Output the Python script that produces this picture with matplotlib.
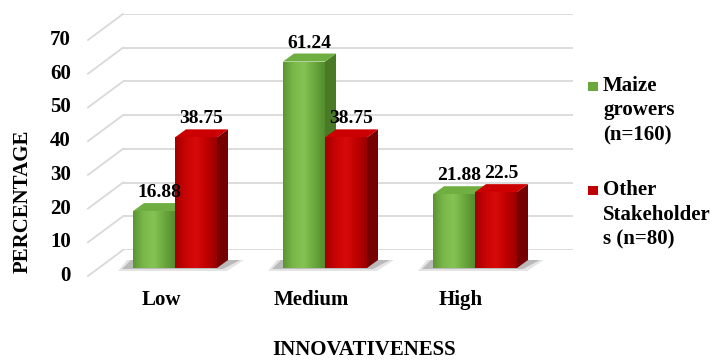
import numpy as np
import matplotlib.pyplot as plt
from matplotlib.patches import Polygon, Rectangle
from matplotlib.colors import LinearSegmentedColormap

# data
categories = ['Low', 'Medium', 'High']
maize = [16.88, 61.24, 21.88]
others = [38.75, 38.75, 22.5]
maize_labels = ['16.88', '61.24', '21.88']
other_labels = ['38.75', '38.75', '22.5']
yticks = [0, 10, 20, 30, 40, 50, 60, 70]
legend_names = ['Maize\ngrowers\n(n=160)', 'Other\nStakeholder\ns (n=80)']

plt.rcParams['font.family'] = ['Liberation Serif', 'DejaVu Serif']
plt.rcParams['font.weight'] = 'bold'

W, H = 710, 360
fig = plt.figure(figsize=(W / 100, H / 100), dpi=100)
# axes = back wall of the 3D box
ax = fig.add_axes([123 / W, 1 - 250 / H, 450 / W, 236 / H])
ax.axis('off')

px_x = 3 / 450.0   # data units per pixel
px_y = 70 / 236.0

grid_c = '#d9d9d9'
# back wall gridlines + diagonals running to the front edge
ax.hlines(yticks, -0.5, 2.5, color=grid_c, lw=1.3, zorder=0)
for v in yticks:
    ax.plot([-0.5 - 35 * px_x, -0.5], [v - 26 * px_y, v], color=grid_c,
            lw=1.3, clip_on=False, zorder=0)
    ax.text(-0.5 - 52 * px_x, v - 26 * px_y, str(v), ha='right', va='center',
            fontsize=15, clip_on=False)

# bar geometry
fx, fy = -23 * px_x, -18 * px_y      # front face shift
ddx, ddy = 11 * px_x, 8 * px_y       # bar depth
bw = 42 * px_x

green_cm = LinearSegmentedColormap.from_list('g', ['#5c9633', '#7bb84a', '#86c355', '#6aa83d', '#558d2e'])
red_cm = LinearSegmentedColormap.from_list('r', ['#a40000', '#c80404', '#d80a0a', '#c00000', '#9a0000'])
grad = np.linspace(0, 1, 64).reshape(1, -1)


def draw_bar(x0, v, cmap, side_c, top_c):
    x0 = x0 + fx
    x1 = x0 + bw
    y0 = fy
    y1 = fy + v
    side = Polygon([(x1, y0), (x1 + ddx, y0 + ddy), (x1 + ddx, y1 + ddy), (x1, y1)],
                   closed=True, fc=side_c, ec='none', zorder=3, clip_on=False)
    top = Polygon([(x0, y1), (x0 + ddx, y1 + ddy), (x1 + ddx, y1 + ddy), (x1, y1)],
                  closed=True, fc=top_c, ec='none', zorder=3, clip_on=False)
    ax.add_patch(side)
    ax.add_patch(top)
    front = Rectangle((x0, y0), bw, v, fc='none', ec='none', zorder=3)
    ax.add_patch(front)
    im = ax.imshow(grad, cmap=cmap, extent=(x0, x1, y0, y1), aspect='auto',
                   zorder=3, interpolation='bilinear')
    im.set_clip_path(front)


for i in range(len(categories)):
    # floor shadow under each pair
    gl = i - bw
    gr = i + bw
    for grow, a in [(4, 0.18), (0, 0.35)]:
        sh = Polygon([(gl + fx - (11 + grow) * px_x, fy - (1 + grow / 2) * px_y),
                      (gr + fx + (6 + grow) * px_x, fy - (1 + grow / 2) * px_y),
                      (gr + fx + ddx + (12 + grow) * px_x, fy + ddy),
                      (gl + fx - (2 + grow) * px_x, fy + ddy)],
                     closed=True, fc='#6e6e6e', ec='none', alpha=a, zorder=2, clip_on=False)
        ax.add_patch(sh)
    draw_bar(i - bw, maize[i], green_cm, '#4a7a26', '#6fae40')
    draw_bar(i, others[i], red_cm, '#760000', '#cc0000')

    ax.text(i - bw / 2 + fx + ddx / 2, maize[i] + fy + ddy + 2 * px_y, maize_labels[i],
            ha='center', va='bottom', fontsize=14, zorder=5)
    ax.text(i + bw / 2 + fx + ddx / 2, others[i] + fy + ddy + 2 * px_y, other_labels[i],
            ha='center', va='bottom', fontsize=14, zorder=5)
    ax.text(i - 37 * px_x, -50 * px_y, categories[i], ha='center', va='center',
            fontsize=15, clip_on=False)

# imshow resets the limits, so fix them last
ax.set_xlim(-0.5, 2.5)
ax.set_ylim(0, 70)

fig.text(364 / W, 1 - 350 / H, 'INNOVATIVENESS', ha='center', va='center', fontsize=15)
fig.text(23 / W, 1 - 201 / H, 'PERCENTAGE', ha='center', va='center', rotation=90,
         fontsize=15)

# legend
leg = [('#6aa83d', 82, legend_names[0]), ('#c00000', 186, legend_names[1])]
for col, ytop, name in leg:
    fig.patches.append(Rectangle((588 / W, 1 - (ytop + 9) / H), 10 / W, 9 / H,
                                 transform=fig.transFigure, fc=col, ec='none'))
    fig.text(603 / W, 1 - (ytop - 6) / H, name, ha='left', va='top', fontsize=15,
             linespacing=1.3)

fig.savefig('out.png', dpi=100)
